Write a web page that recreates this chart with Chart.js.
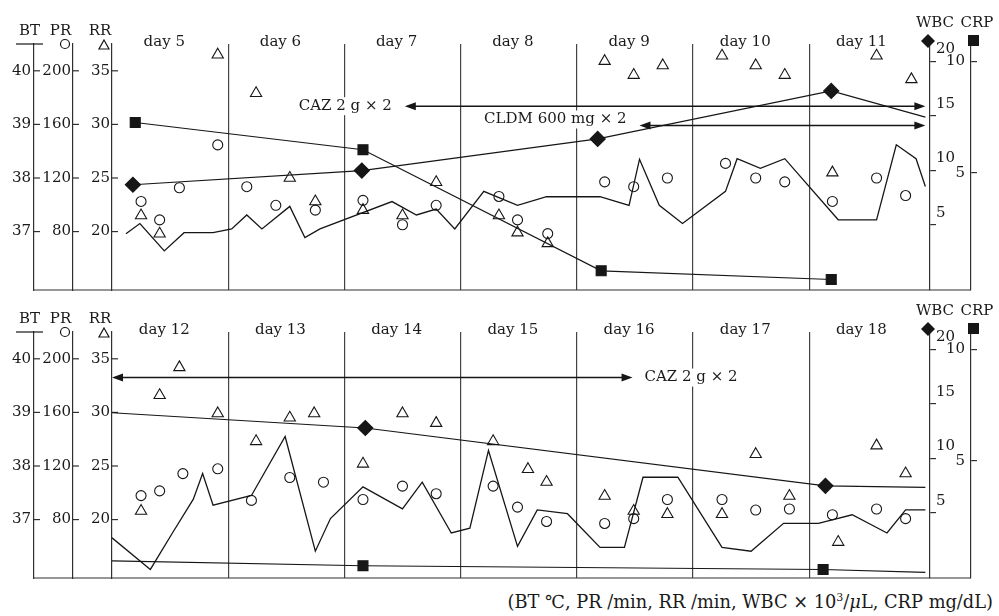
<!DOCTYPE html>
<html>
<head>
<meta charset="utf-8">
<script src="https://cdn.jsdelivr.net/npm/chart.js@4.4.1/dist/chart.umd.min.js"></script>
<style>
  body { margin: 0; background: #fff; }
  #wrap { position: relative; width: 999px; height: 616px; }
  canvas { position: absolute; left: 0; }
  #top { top: 0; }
  #bottom { top: 288px; }
  #unit { position: absolute; right: 6px; top: 591px; font: 17.8px "DejaVu Serif", serif; color: #1a1a1a; white-space: nowrap; }
  #unit sup { font-size: 11px; }
</style>
</head>
<body>
<div id="wrap">
  <canvas id="top" width="999" height="302"></canvas>
  <canvas id="bottom" width="999" height="302"></canvas>
  <div id="unit">(BT ℃, PR /min, RR /min, WBC &#215; 10<sup>3</sup>/<i>μ</i>L, CRP mg/dL)</div>
</div>
<script>
// time = days since the start of the panel (0..7)
const days1 = ['day 5', 'day 6', 'day 7', 'day 8', 'day 9', 'day 10', 'day 11'];
const days2 = ['day 12', 'day 13', 'day 14', 'day 15', 'day 16', 'day 17', 'day 18'];

// tick labels
const dayLines = [1, 2, 3, 4, 5, 6];
const btTicks = [37, 38, 39, 40];
const prTicks = [80, 120, 160, 200];
const rrTicks = [20, 25, 30, 35];
const wbcTicks = [5, 10, 15, 20];
const crpTicks = [5, 10];

// day 5 - 11
const bt1Time = [0.12, 0.24, 0.45, 0.62, 0.87, 1.03, 1.16, 1.29, 1.53, 1.66, 1.79, 2.41, 2.62, 2.79, 2.95, 3.20, 3.49, 3.74, 4.20, 4.45, 4.54, 4.71, 4.91, 5.28, 5.38, 5.58, 5.79, 6.25, 6.58, 6.75, 6.92, 7.0];
const bt1Value = [36.96, 37.15, 36.64, 36.98, 36.98, 37.05, 37.31, 37.05, 37.47, 36.89, 37.05, 37.56, 37.31, 37.42, 37.05, 37.75, 37.49, 37.65, 37.65, 37.49, 38.35, 37.49, 37.15, 37.75, 38.36, 38.18, 38.36, 37.22, 37.22, 38.62, 38.36, 37.84];
const pr1Time = [0.25, 0.41, 0.58, 0.91, 1.16, 1.41, 1.75, 2.16, 2.50, 2.79, 3.33, 3.49, 3.75, 4.24, 4.49, 4.78, 5.28, 5.54, 5.79, 6.20, 6.58, 6.83];
const pr1Value = [102.5, 88.7, 112.7, 144.7, 113.5, 99.6, 96, 103.3, 85.1, 99.6, 106.2, 88.7, 78.5, 117.1, 113.5, 120, 130.9, 120, 117.1, 102.5, 120, 106.9];
const rr1Time = [0.25, 0.41, 0.91, 1.24, 1.53, 1.75, 2.16, 2.50, 2.79, 3.33, 3.49, 3.75, 4.24, 4.49, 4.74, 5.25, 5.54, 5.79, 6.20, 6.58, 6.88];
const rr1Value = [21.5, 19.8, 36.5, 32.9, 25, 22.8, 22, 21.5, 24.6, 21.5, 19.9, 18.9, 35.9, 34.6, 35.5, 36.4, 35.5, 34.6, 25.5, 36.4, 34.2];
const wbc1Time = [0.18, 2.15, 4.18, 6.19, 7.0];
const wbc1Value = [8.7, 10.0, 12.9, 17.3, 14.9];
const crp1Time = [0.20, 2.16, 4.21, 6.19];
const crp1Value = [7.26, 6.04, 0.61, 0.22];

// day 12 - 18
const bt2Time = [0, 0.33, 0.52, 0.70, 0.78, 0.87, 1.20, 1.49, 1.75, 1.88, 2.16, 2.50, 2.67, 2.92, 3.08, 3.24, 3.49, 3.66, 3.92, 4.20, 4.41, 4.57, 4.87, 5.25, 5.50, 5.78, 6.08, 6.37, 6.67, 6.83, 7.0];
const bt2Value = [36.66, 36.07, 36.75, 37.38, 37.86, 37.27, 37.45, 38.55, 36.41, 37.02, 37.61, 37.2, 37.7, 36.75, 36.84, 38.29, 36.5, 37.18, 37.11, 36.48, 36.48, 37.79, 37.79, 36.48, 36.41, 36.93, 36.93, 37.09, 36.75, 37.18, 37.18];
const pr2Time = [0.25, 0.41, 0.61, 0.91, 1.20, 1.53, 1.82, 2.16, 2.50, 2.79, 3.28, 3.49, 3.74, 4.24, 4.49, 4.78, 5.25, 5.54, 5.83, 6.20, 6.58, 6.83];
const pr2Value = [97.9, 101.4, 114.3, 117.9, 94.3, 111.4, 107.9, 95, 105, 99.3, 105, 89.3, 78.6, 77.1, 80.7, 95, 95, 87.1, 87.9, 83.6, 87.9, 80.7];
const rr2Time = [0.25, 0.41, 0.58, 0.91, 1.24, 1.53, 1.74, 2.16, 2.50, 2.79, 3.28, 3.58, 3.74, 4.24, 4.49, 4.78, 5.25, 5.54, 5.83, 6.25, 6.58, 6.83];
const rr2Value = [20.8, 31.6, 34.2, 29.9, 27.3, 29.5, 29.9, 25.2, 29.9, 29.0, 27.3, 24.7, 23.5, 22.2, 20.8, 20.5, 20.5, 26.1, 22.2, 17.9, 26.9, 24.3];
const wbc2Time = [0, 2.18, 6.14, 7.0];
const wbc2Value = [14.2, 12.8, 7.5, 7.35];
const crp2Time = [0, 2.16, 6.12, 7.0];
const crp2Value = [0.52, 0.30, 0.13, 0];

// drug periods (from / to in days, y in BT units)
const notes1 = [
  { text: 'CAZ 2 g \u00d7 2', from: 2.52, to: 7.0, y: 39.34, side: 'left', dy: 0 },
  { text: 'CLDM 600 mg \u00d7 2', from: 4.54, to: 7.0, y: 38.98, side: 'left', dy: -6 }
];
const notes2 = [
  { text: 'CAZ 2 g \u00d7 2', from: 0, to: 4.48, y: 39.65, side: 'right', dy: 0 }
];

Chart.defaults.font.family = '"DejaVu Serif", "Liberation Serif", serif';
Chart.defaults.font.size = 15;
Chart.defaults.color = '#1a1a1a';

const INK = '#161616';
const AXIS = '#303030';
const FONT = '15px "DejaVu Serif", serif';

function pts(t, v) { return t.map((x, i) => ({ x: x, y: v[i] })); }
function fixTicks(list) { return s => { s.ticks = list.map(v => ({ value: v })); }; }

function leftAxis(weight, min, max, ticks, w, pad) {
  return {
    position: 'left', weight: weight, min: min, max: max,
    afterBuildTicks: fixTicks(ticks),
    afterFit: s => { s.width = w; },
    ticks: { padding: pad, autoSkip: false },
    grid: { display: false, drawTicks: false },
    border: { display: true, color: AXIS, width: 1.2 }
  };
}

function head(ctx, x, y, dir) {
  ctx.beginPath();
  ctx.moveTo(x, y);
  ctx.lineTo(x - dir * 11, y - 4);
  ctx.lineTo(x - dir * 11, y + 4);
  ctx.closePath();
  ctx.fill();
}

function seg(ctx, x0, y0, x1, y1) {
  ctx.beginPath(); ctx.moveTo(x0, y0); ctx.lineTo(x1, y1); ctx.stroke();
}

const decor = {
  id: 'decor',
  beforeDatasetsDraw(chart, args, o) {
    const { ctx, chartArea: a, scales: s } = chart;
    ctx.save();
    ctx.strokeStyle = AXIS;
    ctx.lineWidth = 1.2;
    // base line runs under all axes
    seg(ctx, s.bt.right, a.bottom, s.crp.left, a.bottom);
    // small inward ticks on the left axes
    ['bt', 'pr', 'rr'].forEach(id => {
      const sc = s[id];
      sc.ticks.forEach(t => {
        const y = sc.getPixelForValue(t.value);
        seg(ctx, sc.right, y, sc.right + 6, y);
      });
    });
    // drug arrows
    ctx.font = FONT;
    ctx.textBaseline = 'middle';
    ctx.textAlign = 'left';
    o.notes.forEach(n => {
      const x0 = s.x.getPixelForValue(n.from);
      const x1 = s.x.getPixelForValue(n.to);
      const y = s.bt.getPixelForValue(n.y);
      ctx.strokeStyle = INK;
      ctx.fillStyle = INK;
      ctx.lineWidth = 1.5;
      seg(ctx, x0 + 4, y, x1 - 4, y);
      head(ctx, x0, y, -1);
      head(ctx, x1, y, 1);
      const w = ctx.measureText(n.text).width;
      const tx = n.side === 'left' ? x0 - 13 - w : x1 + 12;
      const ty = y + n.dy;
      ctx.fillStyle = '#fff';
      ctx.fillRect(tx - 3, ty - 9, w + 6, 18);
      ctx.fillStyle = '#1a1a1a';
      ctx.fillText(n.text, tx, ty);
    });
    ctx.restore();
  },
  afterDraw(chart, args, o) {
    const { ctx, chartArea: a, scales: s } = chart;
    const top = a.top;
    ctx.save();
    ctx.font = FONT;
    ctx.fillStyle = '#1a1a1a';
    ctx.textAlign = 'center';
    ctx.textBaseline = 'middle';
    o.days.forEach((d, i) => ctx.fillText(d, s.x.getPixelForValue(i + 0.45), top - 2));
    ctx.fillText('BT', s.bt.right - 4.5, top - 13);
    ctx.fillText('PR', s.pr.right - 12.5, top - 13);
    ctx.fillText('RR', s.rr.right - 12, top - 13);
    ctx.fillText('WBC', s.wbc.left + 5, top - 21);
    ctx.fillText('CRP', s.crp.left + 6, top - 21);
    // legend keys
    ctx.strokeStyle = INK;
    ctx.fillStyle = INK;
    ctx.lineWidth = 1.2;
    seg(ctx, s.bt.right - 18, top, s.bt.right + 9, top);
    ctx.beginPath();
    ctx.arc(s.pr.right - 8, top, 4.5, 0, Math.PI * 2);
    ctx.stroke();
    const tx = s.rr.right - 8, ty = top + 1;
    ctx.beginPath();
    ctx.moveTo(tx, ty - 5); ctx.lineTo(tx + 5, ty + 4); ctx.lineTo(tx - 5, ty + 4); ctx.closePath();
    ctx.stroke();
    const dx = s.wbc.left - 2, dy = top - 3;
    ctx.beginPath();
    ctx.moveTo(dx, dy - 7); ctx.lineTo(dx + 7, dy); ctx.lineTo(dx, dy + 7); ctx.lineTo(dx - 7, dy); ctx.closePath();
    ctx.fill();
    ctx.fillRect(s.crp.left - 3, top - 9, 11, 11);
    ctx.restore();
  }
};

function makePanel(id, p) {
  const atEdge = c => c.raw && (c.raw.x <= 0 || c.raw.x >= 7);
  new Chart(document.getElementById(id), {
    type: 'scatter',
    plugins: [decor],
    data: {
      datasets: [
        { label: 'PR', data: pts(p.prTime, p.prValue), yAxisID: 'pr', pointStyle: 'circle', pointRadius: 5, borderColor: INK, borderWidth: 1.1, backgroundColor: 'rgba(0,0,0,0)' },
        { label: 'RR', data: pts(p.rrTime, p.rrValue), yAxisID: 'rr', pointStyle: 'triangle', pointRadius: 6.5, borderColor: INK, borderWidth: 1.1, backgroundColor: 'rgba(0,0,0,0)' },
        { label: 'WBC', data: pts(p.wbcTime, p.wbcValue), yAxisID: 'wbc', showLine: true, pointStyle: 'rectRot', pointRadius: c => atEdge(c) ? 0 : 7.5, borderColor: INK, backgroundColor: INK, borderWidth: 1.2 },
        { label: 'CRP', data: pts(p.crpTime, p.crpValue), yAxisID: 'crp', showLine: true, pointStyle: 'rect', pointRadius: c => atEdge(c) ? 0 : 7, borderColor: INK, backgroundColor: INK, borderWidth: 1.2 },
        { label: 'BT', data: pts(p.btTime, p.btValue), yAxisID: 'bt', showLine: true, pointRadius: 0, borderColor: INK, borderWidth: 1.3 }
      ]
    },
    options: {
      responsive: false,
      animation: false,
      events: [],
      layout: { padding: { top: 44, bottom: 4, left: 0, right: 0 } },
      plugins: {
        legend: { display: false },
        tooltip: { enabled: false },
        decor: { days: p.days, notes: p.notes }
      },
      scales: {
        x: {
          type: 'linear', position: 'bottom', min: 0, max: 7.04,
          afterBuildTicks: fixTicks(dayLines),
          afterFit: s => { s.height = 0; },
          ticks: { display: false },
          grid: { color: '#444', lineWidth: 1.2, drawTicks: false },
          border: { display: false }
        },
        bt: leftAxis(3, 35.91, 40.5, btTicks, 34, 3),
        pr: leftAxis(2, 36.4, 220, prTicks, 39, 2),
        rr: leftAxis(1, 14.55, 37.5, rrTicks, 39, 2),
        wbc: {
          position: 'right', weight: 1, min: -0.95, max: 21.6,
          afterBuildTicks: fixTicks(wbcTicks),
          afterFit: s => { s.width = 41; },
          ticks: { padding: 0, labelOffset: -12, autoSkip: false },
          grid: { drawOnChartArea: false, tickLength: 6, color: AXIS, lineWidth: 1.2 },
          border: { display: true, color: AXIS, width: 1.2 }
        },
        crp: {
          position: 'right', weight: 2, min: -0.25, max: 10.78,
          afterBuildTicks: fixTicks(crpTicks),
          afterFit: s => { s.width = 28; },
          ticks: { mirror: true, padding: -6, autoSkip: false },
          grid: { drawOnChartArea: false, tickLength: 6, color: AXIS, lineWidth: 1.2 },
          border: { display: true, color: AXIS, width: 1.2 }
        }
      }
    }
  });
}

makePanel('top', {
  days: days1, notes: notes1,
  btTime: bt1Time, btValue: bt1Value,
  prTime: pr1Time, prValue: pr1Value,
  rrTime: rr1Time, rrValue: rr1Value,
  wbcTime: wbc1Time, wbcValue: wbc1Value,
  crpTime: crp1Time, crpValue: crp1Value
});

makePanel('bottom', {
  days: days2, notes: notes2,
  btTime: bt2Time, btValue: bt2Value,
  prTime: pr2Time, prValue: pr2Value,
  rrTime: rr2Time, rrValue: rr2Value,
  wbcTime: wbc2Time, wbcValue: wbc2Value,
  crpTime: crp2Time, crpValue: crp2Value
});
</script>
</body>
</html>
